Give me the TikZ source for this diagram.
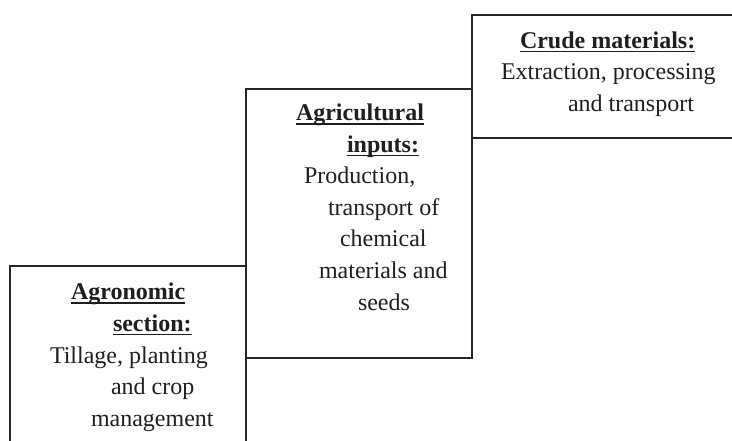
\documentclass[tikz,border=0pt]{standalone}
\usepackage{fontspec}
\setmainfont{Liberation Serif}
\newcommand\myul[1]{\setbox0\hbox{#1}\rlap{\rule[-3.6pt]{\wd0}{1.3pt}}\box0}
\begin{document}
\begin{tikzpicture}[x=1pt,y=-1pt,
  boxline/.style={line width=1.6pt,draw=black!85,line join=miter},
  txt/.style={anchor=base west,inner sep=0pt,outer sep=0pt,text=black!88,font=\fontsize{24}{29}\selectfont},
  ttl/.style={txt,font=\fontsize{24}{29}\selectfont\bfseries}]
\useasboundingbox (0,0) rectangle (732,441);
% boxes
\draw[boxline] (10,441) -- (10,266) -- (246,266) -- (246,441);
\draw[boxline] (246,89) rectangle (472,358);
\draw[boxline] (732,15) -- (472,15) -- (472,138) -- (732,138);
% box 1
\node[ttl] (a1) at (71,300) {\myul{Agronomic}};
\node[ttl] (a2) at (113,331.5) {\myul{section:}};
\node[txt] (a3) at (50,363) {Tillage, planting};
\node[txt] (a4) at (111,394.5) {and crop};
\node[txt] (a5) at (91,426) {management};
% box 2
\node[ttl] (b1) at (296,121) {\myul{Agricultural}};
\node[ttl] (b2) at (347,152.5) {\myul{inputs:}};
\node[txt] (b3) at (304,184) {Production,};
\node[txt] (b4) at (328,215.5) {transport of};
\node[txt] (b5) at (340,247) {chemical};
\node[txt] (b6) at (319,278.5) {materials and};
\node[txt] (b7) at (358,310) {seeds};
% box 3
\node[ttl] (c1) at (520,48.5) {\myul{Crude materials:}};
\node[txt] (c2) at (501,80) {Extraction, processing};
\node[txt] (c3) at (568,111.5) {and transport};
\end{tikzpicture}
\end{document}
